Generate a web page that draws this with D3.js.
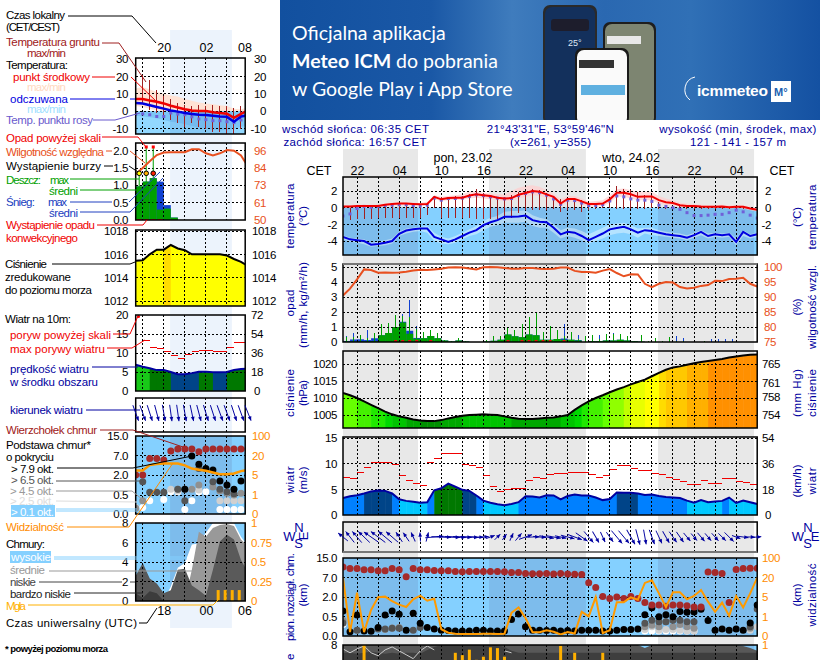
<!DOCTYPE html>
<html>
<head>
<meta charset="utf-8" />
<script src="https://d3js.org/d3.v7.min.js"></script>
<style>
  body { margin: 0; background: #fff; overflow: hidden; }
  svg { display: block; }
  text { font-family: "Liberation Sans", Arial, sans-serif; font-size: 11.5px; }
  .tick text { font-size: 11.5px; letter-spacing: -0.4px; }
</style>
</head>
<body>
<svg id="chart" width="820" height="660"></svg>
<script>
// ---- main meteogram, hourly from 20 CET ----
const hourTicks = [2, 8, 14, 20, 26, 32, 38, 44, 50, 56];
const hourLabels = ["22", "04", "10", "16", "22", "04", "10", "16", "22", "04"];
const nights = [[0, 10.68], [20.8, 34.6], [44.87, 58.55]];

const temp = [0.15,0.15,0.2,0.2,0.2,0.2,0.35,0.45,0.5,0.5,.45,.4,.45,1.3,1.0,1.15,1.2,1.2,1.45,1.6,1.5,1.4,1.2,1.1,1.15,1.55,1.75,2.0,1.9,1.6,1.3,.5,1.05,1.05,.75,.45,.45,.5,1.0,1.8,1.8,1.6,1.3,1.35,1.35,.9,.65,.55,.3,.2,.2,.15,.12,.12,.15,.05,.1,.1,-.1,-.25];
const tempMax = [0.3,0.3,0.35,0.35,0.35,0.35,0.5,0.6,0.65,0.65,0.6,0.55,0.7,1.5,1.3,1.4,1.5,1.6,1.9,2.0,1.8,1.7,1.6,1.6,2.0,2.4,2.6,2.7,2.5,2.1,1.7,1.0,1.4,1.4,1.1,0.7,0.8,0.9,1.5,2.2,2.3,2.1,1.9,1.9,1.9,1.4,1.1,0.9,0.6,0.5,0.4,0.35,0.3,0.3,0.35,0.3,0.3,0.3,0.1,0];
const tempMin = [0,0,0.05,0.05,0.05,0.05,0.2,0.3,0.35,0.35,0.3,0.25,0.3,1.0,0.8,0.9,0.95,0.95,1.1,1.2,1.1,1.0,0.9,0.8,0.85,1.1,1.3,1.5,1.4,1.2,0.9,0.2,0.7,0.7,0.4,0.1,0.1,0.2,0.6,1.3,1.3,1.1,0.9,0.9,0.9,0.5,0.3,0.3,0.1,0,0,0,-0.05,-0.05,0,-0.1,-0.05,-0.1,-0.3,-0.45];
const feels = [-3.5,-3.8,-3.9,-4.0,-4.45,-4.35,-4.2,-4.0,-3.15,-2.75,-2.6,-2.5,-2.5,-3.5,-3.8,-4.1,-3.8,-3.4,-3.0,-2.7,-2.1,-1.75,-1.5,-1.1,-1.1,-1.05,-0.95,-1.5,-1.7,-1.75,-2.4,-3.2,-2.9,-3.0,-3.4,-3.9,-3.5,-3.1,-2.6,-2.45,-2.3,-2.6,-3.0,-2.7,-2.8,-3.0,-3.2,-3.3,-3.4,-3.6,-3.3,-2.9,-3.4,-3.2,-3.3,-3.2,-4.1,-2.9,-3.4,-3.2];
const feelsMax = [-3.3,-3.6,-3.7,-3.8,-4.2,-4.1,-3.9,-3.7,-2.9,-2.5,-2.4,-2.3,-2.2,-3.0,-3.5,-3.7,-3.4,-3.0,-2.6,-2.2,-1.6,-1.2,-1.0,-0.5,-0.4,-0.4,-0.3,-0.9,-1.2,-1.4,-2.0,-2.7,-2.4,-2.5,-2.8,-3.2,-2.8,-2.4,-2.0,-1.9,-1.8,-2.1,-2.5,-2.4,-2.4,-2.7,-2.9,-3.0,-3.1,-3.3,-3.0,-2.7,-3.1,-3.0,-3.1,-3.0,-3.7,-2.7,-3.2,-3.0];
const feelsMin = [-3.8,-4.1,-4.2,-4.4,-4.7,-4.6,-4.5,-4.3,-3.4,-3.1,-2.9,-2.8,-3.0,-4.0,-4.3,-4.4,-4.2,-3.8,-3.4,-3.2,-2.7,-2.3,-2.1,-1.8,-1.8,-1.8,-1.7,-2.2,-2.4,-2.4,-3.0,-3.7,-3.4,-3.6,-3.9,-4.3,-4.0,-3.7,-3.3,-3.1,-3.0,-3.2,-3.6,-3.1,-3.3,-3.4,-3.5,-3.6,-3.7,-3.9,-3.6,-3.3,-3.7,-3.5,-3.6,-3.5,-4.5,-3.4,-3.7,-3.5];
const dewPoint = [-1.0,-0.75,-0.1,0.15,0.05,0.15,0.25,0.3,0.35,0.35,0.25,0.2,0.3,1.15,0.9,1.1,1.1,1.15,1.35,1.55,1.45,1.3,1.15,1.05,1.1,1.45,1.7,1.9,1.8,1.5,1.05,0.4,0.9,0.85,0.55,0.25,0.25,0.35,0.8,1.4,1.3,1.05,0.9,0.9,0.75,0.3,0.15,0,-0.2,-0.6,-0.95,-0.95,-0.9,-0.8,-0.8,-0.6,-0.3,-0.5,-0.9,-1.25];
const groundHi = [0.1,0.0,0.0,0.1,0.1,0.1,0.1,0.2,0.2,0.2,0.2,0.2,0.2,1.2,1.3,1.3,1.4,1.4,1.7,2.3,1.8,1.4,1.2,1.3,1.5,1.9,2.0,2.3,2.1,1.6,1.4,1.1,1.2,1.1,0.9,0.5,0.5,0.5,0.9,2.6,2.3,2.1,1.9,1.5,1.5,0.7,0.3,0.2,0.3,0.2,0.2,0.15,0.1,0.1,0.2,0.1,0.1,0.1,0,-0.1];
const groundLo = [-0.1,-1.5,-1.3,-1.3,-1.3,-1.2,-1.2,-1.2,-1.2,-1.2,-1.2,-1.2,-0.9,0,-1.2,-1.2,-1.2,-1.2,-1.2,-1.3,-1.3,-1.3,-1.3,-1.2,-1.2,-0.6,-0.3,-0.3,-0.3,-0.3,-0.2,-0.5,-0.3,-0.3,-0.5,-0.3,-0.1,0,0,-0.1,-0.1,-0.1,-0.1,-0.1,0,-0.1,-0.1,-0.1,-0.2,-0.2,-0.2,-0.1,-0.1,-0.1,-0.2,-0.2,-0.2,-0.1,-0.2,-0.3];

const rainMean = [0.02,0.02,0.03,0.03,0.05,0.45,0.6,1.0,1.3,0.55,0.22,0.25,0.4,0.25,0.1,0.03,0.1,0.03,0,0,0.03,0.08,0.15,0.5,0.38,0.32,0.5,0.45,0.15,0.15,0.2,0.15,0.15,0.1,0,0.05,0.05,0.1,0.1,0.15,0.1,0.05,0.02,0,0,0,0,0,0,0,0,0,0,0,0,0,0,0,0,0];
const snowMean = [0.05,0.15,0.15,0.1,0.2,0,0,0,0.05,0.2,0.05,0,0,0,0,0,0,0,0,0,0,0,0,0,0,0,0,0,0,0,0,0.08,0,0.03,0,0,0,0,0,0,0,0,0,0,0,0,0,0,0,0,0,0,0,0,0,0,0,0,0,0];
const rainMax = [0.35,0.35,0.45,0.3,0.6,1.2,1.3,1.8,1.75,1.7,0.9,0.7,0.8,0.6,0.15,0.05,0.3,0.1,0,0,0.15,0.4,0.4,1.0,0.8,1.2,1.7,2.0,0.7,1.1,0.8,0.4,0.7,0.2,0.4,0.5,0.2,0.55,0.55,0.55,0.4,0.1,0.45,0.1,0.3,0.1,0.35,0.05,0.05,0,0,0.05,0,0,0,0,0,0,0,0];
const snowMax = [0.4,0.6,0.45,0.8,0.5,0,0,0,1.9,2.8,1.1,0,0,0,0,0,0,0,0,0,0,0,0,0,0,0,0,0,0,0,0,1.2,0,0.45,0,0,0.5,0.3,0.6,0.3,0,0,0,0,0,0,0,0.4,0.3,0,0,0.05,0.2,0.2,0.2,0.2,0,0,0,0];
const convective = [7, 8, 9, 10, 12, 23, 25, 26, 27, 28, 29, 31];
const humidity = [90.5,92.8,95.9,99.2,99,98.1,98.2,98.1,98.2,98.4,98.8,99.1,99,99.2,99.4,99.8,99.9,99.8,99.5,99.2,99.9,100,99.9,99.7,99.4,99.4,99.7,99.7,99.4,99.3,99.4,99.8,99.8,98.7,98.3,98.3,98.1,98.8,99.3,98,96.9,97.6,97.5,94.4,93.3,94.4,95,94.8,93.3,92.8,93.1,93.7,94,95.4,95.3,96,96.1,96.4,94.4,93.5];

const pressure = [1011.5,1010.8,1010,1009,1008,1007,1006,1005.2,1004.6,1004.2,1003.7,1003.4,1003.2,1003.2,1003.5,1004,1004.4,1004.8,1005,1005.1,1005.2,1005.1,1005,1004.6,1004.2,1003.9,1003.8,1003.8,1004,1004.2,1004.3,1004.6,1005,1006.5,1007.8,1009,1010,1010.8,1011.7,1012.5,1013.2,1014,1014.7,1015.4,1016.4,1017.4,1018.3,1019,1019.3,1019.8,1020.2,1020.6,1020.9,1021.2,1021.5,1021.9,1022.2,1022.5,1022.7,1022.8];

const windSpeed = [3.3,3.65,3.85,4.2,4.6,4.75,4.7,4.2,3.05,2.75,2.6,2.4,2.5,4.8,5.2,6.1,5.5,4.9,4.7,3.8,2.8,2.4,2.1,1.9,2.15,2.5,3.65,3.6,3.4,3.85,3.8,3.05,3.7,4.0,3.8,3.8,3.4,2.9,3.1,4.4,4.35,4.35,4.2,3.9,4.0,3.7,3.5,3.4,3.3,2.8,2.4,2.9,2.5,2.65,2.75,3.4,2.35,2.8,2.5,2.15];
const windGust = [7.3,7.1,8.3,9.3,10.3,10.3,10.3,9.9,7.6,6.8,6.1,5.8,10.3,11.1,11.9,11.9,11.9,9.9,9.6,9.3,7.6,5.6,4.5,5,5.2,5.2,6.8,7.4,7.2,7.8,8,8,8.35,8.35,8.2,7.8,7.4,7.6,8.9,9.6,9.6,9.1,8.7,8.7,8,7.8,7.4,7,6.6,6,6,6.8,6.2,6.2,7.2,7.2,6.6,6.4,6];
const windDir = [309,322,320,314,305,307,310,311,327,326,335,357,14,85,92,92,93,93,93,92,85,70,45,35,25,40,70,88,95,100,100,102,105,110,125,140,150,155,145,140,140,150,165,170,160,155,150,145,145,140,140,140,140,138,135,135,110,98,92,85];

const cloudTop = [11.3,10.7,10.7,10.2,10.2,9.8,9.8,10.7,10.2,7.4,10.7,10.2,10.2,9.9,9.8,9.8,9.5,9.4,9.5,9.5,9.5,9.5,9.5,9.4,9.1,9.1,8.7,8.6,8.6,8.7,8.5,8.7,8.5,8.4,8.3,5.7,4.5,2.2,1.9,2.1,1.9,2.2,1.9,1.6,1.4,1.4,1.3,1.4,1.4,1.35,1.25,1.25,9.3,9.1,8.7,1.6,10.3,10.7,10.8,10.8];
const base79 = [0.94,0.11,0.63,0.13,0.12,0.22,0.63,0.94,0.68,0.15,0.76,0.33,0.22,0.18,0.15,0.14,0.13,0.13,0.13,0.15,0.15,0.13,0.13,0.13,0.43,0.7,0.24,0.15,0.15,0.14,0.15,0.13,0.14,0.13,0.15,0.15,0.15,0.13,0.13,0.15,0.17,0.17,0.18,0.66,1.2,0.5,0.66,0.5,0.9,0.85,0.87,1.07,0.4,0.15,0.18,0.15,0.18,0.15,0.34,1.4];
const base65 = [[0,.34],[2,.15],[5,.18],[6,.18],[7,.2],[8,.2],[10,.15],[11,.22],[43,.33],[44,.41],[45,.37],[46,.37],[47,.41],[48,.41],[49,.37],[50,.37],[58,.24],[59,1.1]];
const base45 = [[0,.41],[2,.15],[6,.17],[7,.21],[8,.22],[43,.24],[44,.28],[45,.24],[46,.37],[47,.24],[48,.3],[49,.24],[50,.2],[58,.2]];
const base25 = [[0,.34],[43,.17],[44,.24],[45,.15],[46,.17],[47,.17],[48,.15],[49,.13],[50,.13],[58,.15],[59,.24]];
const base01 = [[0,.3],[43,.13],[44,.13],[45,.13],[46,.13],[47,.13],[48,.13],[49,.13],[50,.13]];
const visibility = [20,.2,8.5,.2,2.4,5,5.5,4.2,3.5,3,4.6,6.3,4.3,4.7,.35,.17,.12,.1,.1,.1,.12,.12,.1,.12,1.8,2.9,.93,.2,.2,.3,.22,.08,.2,.13,2,1.05,5.2,.15,.3,4,4,5,4.5,16,18,8,3,8.8,8.8,4.6,6,10.6,4.1,2,3.9,1.2,6,2.9,8,20];

const lowCloud = [8,8,8,8,8,8,8,8,8,8,8,8,8,8,8,8,8,8,8,8,8,8,8,8,8,8,8,8,8,8,8,8,8,8,8,8,8,8,8,8,8,8,8,7.7,8,8,8,8,8,8,8,8,8,8,8,8,8,7.9,7.7,7.4];
const vlowCloud = [7.2,7.2,7.1,7.2,7.3,7.2,7.1,7.2,7.1,7.2,7.2,7.1,7.5,7.8,8,8,8,8,8,8,8,8,8,7.8,7.4,7.2,7.2,7.2,7.2,7.2,7.2,7.2,7.2,7.2,7.2,7.2,7.2,7.2,7.2,7.2,7.2,7.2,7.2,7.2,7.2,7.2,7.2,7.2,7.2,7.2,7.2,7.2,7.2,7.2,7.2,7.2,7.2,7.2,7.2,7.2];
const highCloudLine = [7.6,7.2,7.6,7.9,7.2,6.9,7.5,7.8,7.4,7,6.6,7.4,7.9,7.5,null,null,null,null,null,null,null,null,null,7.4,7.2];
const fogMain = [[3,1],[16,.9],[17,.87],[18,.94],[19,.81],[20,.85],[21,.97],[22,.96],[23,.85],[31,.99],[33,.9],[37,.9]];

// ---- small legend meteogram on the left ----
const leftTicks = [4, 10, 15.5];
const leftLocal = ["20", "02", "08"];
const leftUtc = ["18", "00", "06"];
const leftNight = [4.9, 13.7];
const lTemp = [7,7,6.2,5.5,4.5,3.2,2.2,1.2,0.5,0.2,0.2,-0.5,-1,-1.4,-3.8,-1.5,0.5];
const lFeels = [4.8,4.4,3.5,2.5,1.5,0.5,-0.2,-1,-1.5,-2,-2.2,-2.6,-3,-3.2,-6,-3,-2.3];
const lDew = [-1.5,-1.5,-2,-3,-3,-1,-1.6,-2,-3.2,-4.4,-4.8,-5.4,-5.4,-6,-6.5,-5,-3];
const lTempMax = [13,14,12.5,11,10,9,8.5,7,6,5,4.5,4,3.5,3,1.5,1,2.5];
const lTempMin = [3,2.5,1.5,0.5,0,0,0,0,0,0,0,0,0,0,0,0,0];
const lFeelsMin = [-2.5,-3,-3.5,-4,-5,-6,-6.5,-7.5,-8.5,-9.5,-10,-10.5,-11,-10.5,-10,-9,-8];
const lGroundHi = [4,21,18,12,9,7,5,3.5,3,3.5,3,3.5,3,3,2,3,3];
const lGroundLo = [1,4,1,-1,-3,-5,-7,-9,-7,-9,-10,-12,-12,-13,-14,-10,-5];
const lRainMean = [0.96,1.1,1.2,0.3,0.33,0.07,0,0,0,0,0,0,0,0,0,0];
const lSnowMean = [0,0,0,0.8,0.1,0,0,0,0,0,0,0,0,0,0,0];
const lRainMax = [1.35,2.1,2.1];
const lStorm = [[0, "#ffff00"], [1, "#ffb000"], [2, "#ff2000"]];
const lOverScale = [1, 2];
const lConvective = [0, 1, 2, 3];
const lHumidity = [80,84,88.7,93,94.7,95,95,95,97,97,94.2,92.7,94.2,96.4,96,92.7,85];
const lPressure = [1015.44,1015.5,1016,1016.4,1016.4,1016.8,1016.5,1016.35,1016,1016,1016,1016,1016,1015.9,1015.6,1015.35,1015];
const lWind = [6.9,6.4,6,5.5,5.5,5,4.4,4.4,4.7,5.05,5.05,4.95,4.95,5,5.5,5.8,5.9];
const lGust = [13.4,11.5,11.2,10.35,9.4,8.6,9.65,10.35,10.7,10.7,10.35,10.35,11.5,12.8,12.8];
const lWindDir = [160,160,162,165,170,172,172,170,168,165,163,162,160,160,162,160,158];
const lWindLen = [5.5,5.5,5.5,5.5,5.5,5.5,5.5,5.5,5.5,5.5,5.5,5.5,5.5,5.5,5.5,5.5,5.5];
const lTop = [2,2,6.3,6.3,5.9,8.9,9.7,9.7,9.7,8.6,9.7,9.7,9.7,9.7,9.7,9.7,9.7];
const lBase79 = [[7,.93],[8,6.9],[9,4.8],[10,3.7],[11,3.3],[12,1.55],[13,1.25],[14,.93],[15,1.55],[16,1.95]];
const lBase65 = [[1,1.5],[2,.7],[3,.7],[4,.7],[6,.93],[7,.35],[9,3.7],[11,1.5],[12,.93],[13,.75],[14,.6]];
const lBase45 = [[0,.15],[1,.35],[6,.93],[7,.93],[8,.93],[9,1.25],[11,1.1],[12,.8],[13,.63],[14,.5],[15,.63]];
const lBase25 = [[0,.17],[5,.93],[6,.8],[9,.88],[12,.35],[13,.35],[14,.35],[15,.35],[16,.35]];
const lBase01 = [[1,.17],[2,.35],[4,.38],[5,.75],[6,.75],[7,.12],[8,.35],[9,.75],[10,.75],[12,.12],[13,.12],[14,.12],[15,.12]];
const lVisibility = [8.5,8.5,12.7,13.5,14,14,14,12.5,10,9,8.3,7,5.6,5.5,6.2,8,9];
const lHighCloud = [0,0,0,0,0,1.5,3.4,3.9,5.8,5.9,7,8,8,8,8,6.6,5.6];
const lMidCloud = [0,0,0,0,0,0,0,0,3.2,7.1,6.6,7.5,7.8,7.9,7.7,6.3,5.6];
const lLowCloud = [2.6,3.9,2.3,1.8,0.8,1.1,3.2,3.3,1.6,1.1,0.55,3.2,6.1,6.8,6.3,4.2,2.9];
const lVlowCloud = [0.8,0.3,1,0.8,0,0,0,0,0,0,0,0,0,0,0,0,0];
const lFog = [[11.75,.14],[12.75,.14],[13.75,.14],[14.75,.14]];

// axis ticks
const tempTicks = [-4, -2, 0, 2];
const rainTicks = [0, 1, 2, 3, 4, 5];
const humTicks = [75, 80, 85, 90, 95, 100];
const hpaTicks = [1005, 1010, 1015, 1020];
const mmhgTicks = [754, 758, 761, 765];
const msTicks = [0, 5, 10, 15];
const kmhTicks = [0, 18, 36, 54];
const kmTicks = [0, 0.5, 2, 7, 15];
const visTicks = [0, 1, 5, 20, 100];
const oktTicks = [0, 2, 4, 6, 8];
const fogTicks = [0, 0.25, 0.5, 0.75, 1];

const navy = "#0000a0", orange = "#ff8c00", humColor = "#e85020", skyDay = "#84d0ff", skyNight = "#7dbcec";
const svg = d3.select("#chart");
const defs = svg.append("defs");
let clipId = 0;

const xMain = d3.scaleLinear().domain([0, 59]).range([343, 757.2]);
const xLeft = d3.scaleLinear().domain([0, 15.6]).range([135.7, 245.2]);

function txt(x, y, s, color, opts) {
  opts = opts || {};
  const t = svg.append("text").attr("x", x).attr("y", y).attr("fill", color || "#000").text(s)
    .attr("text-anchor", opts.anchor || "start");
  if (opts.size) t.style("font-size", opts.size + "px");
  if (opts.weight) t.style("font-weight", opts.weight);
  if (opts.font) t.style("font-family", opts.font);
  if (opts.len) t.attr("textLength", opts.len).attr("lengthAdjust", "spacing");
  return t;
}
function vtxt(x, y, s, len, color) {
  const t = svg.append("text").attr("transform", `translate(${x},${y}) rotate(-90)`)
    .attr("text-anchor", "middle").attr("fill", color || navy).text(s);
  if (len) t.attr("textLength", len).attr("lengthAdjust", "spacing");
  return t;
}
function clipped(x0, x1, y0, y1) {
  const id = "clip" + (clipId++);
  defs.append("clipPath").attr("id", id).append("rect")
    .attr("x", x0).attr("y", y0).attr("width", x1 - x0).attr("height", y1 - y0);
  return svg.append("g").attr("clip-path", `url(#${id})`);
}
function grid(g, x, xs, y, ys, y0, y1, x0, x1) {
  g.selectAll(null).data(xs).enter().append("line")
    .attr("x1", d => x(d)).attr("x2", d => x(d)).attr("y1", y0).attr("y2", y1)
    .attr("stroke", "#000").attr("stroke-dasharray", "2,2").attr("shape-rendering", "crispEdges");
  g.selectAll(null).data(ys).enter().append("line")
    .attr("y1", d => y(d)).attr("y2", d => y(d)).attr("x1", x0).attr("x2", x1)
    .attr("stroke", "#000").attr("stroke-dasharray", "2,2").attr("shape-rendering", "crispEdges");
}
function frame(x0, x1, y0, y1) {
  svg.append("rect").attr("x", x0).attr("y", y0).attr("width", x1 - x0).attr("height", y1 - y0)
    .attr("fill", "none").attr("stroke", "#000").attr("stroke-width", 1.5);
}
function axisY(scale, ticks, x, side, color, fmt, anchor) {
  const ax = (side == "left" ? d3.axisLeft(scale) : d3.axisRight(scale))
    .tickValues(ticks).tickSize(0).tickPadding(0).tickFormat(fmt || (d => d));
  const g = svg.append("g").attr("transform", `translate(${x},0)`).call(ax);
  g.select(".domain").remove();
  g.selectAll("text").attr("fill", color || "#000").attr("text-anchor", anchor || (side == "left" ? "end" : "start"));
  return g;
}
function axisX(scale, ticks, labels, y) {
  const ax = d3.axisTop(scale).tickValues(ticks).tickSize(0).tickPadding(0).tickFormat((d, i) => labels[i]);
  const g = svg.append("g").attr("transform", `translate(0,${y})`).call(ax);
  g.select(".domain").remove();
  g.selectAll("text").attr("fill", "#000").style("font-size", "12.5px").style("letter-spacing", "0");
}
function lineOf(x, y) {
  return d3.line().defined(d => d != null).x((d, i) => x(i)).y(d => y(d));
}
function bandOf(x, y, hi, lo) {
  return d3.area().x((d, i) => x(i)).y0((d, i) => y(lo[i])).y1((d, i) => y(hi[i]))(hi);
}
function skyBackground(g, x, nightSpans, x0, x1, y0, y1, nightColor) {
  g.append("rect").attr("x", x0).attr("y", y0).attr("width", x1 - x0).attr("height", y1 - y0).attr("fill", skyDay);
  g.selectAll(null).data(nightSpans).enter().append("rect")
    .attr("x", d => x(d[0])).attr("width", d => x(d[1]) - x(d[0])).attr("y", y0).attr("height", y1 - y0)
    .attr("fill", nightColor);
}
function dots(g, x, y, pts, color) {
  g.selectAll(null).data(pts).enter().append("circle")
    .attr("cx", d => x(d[0])).attr("cy", d => y(d[1])).attr("r", 3.5).attr("fill", color);
}
function arrows(g, x, cy, speeds, dirs, perMs) {
  const a = g.selectAll(null).data(dirs).enter().append("g")
    .attr("transform", (d, i) => `translate(${x(i)},${cy}) rotate(${d})`);
  a.append("line").attr("y1", (d, i) => speeds[i] * perMs / 2).attr("y2", (d, i) => -speeds[i] * perMs / 2)
    .attr("stroke", navy).attr("stroke-width", 0.9);
  a.append("path").attr("fill", navy)
    .attr("d", (d, i) => { const t = -speeds[i] * perMs / 2; return `M0,${t}L-1.9,${t + 4.2}L1.9,${t + 4.2}Z`; });
}
const pressColor = d3.scaleThreshold()
  .domain([1003.5,1004.5,1005.6,1007,1009,1010.5,1011.6,1013,1014,1015,1016.6,1018,1019.5,1020.8])
  .range(["#009000","#00a800","#00c400","#00d800","#20e800","#44f000","#66ff00","#90ff00","#c0ff00","#e8ff00","#ffff00","#ffdc00","#ffc800","#ffb000","#ff9000"]);
const windColor = d3.scaleThreshold().domain([3, 4.1, 5, 5.95]).range(["#00c8ff", "#0080ff", "#004488", "#007800", "#18c818"]);

// ---- banner ----
const grad = defs.append("linearGradient").attr("id", "bannerBg");
[[0, "#12509f"], [0.28, "#1a58a6"], [0.43, "#3f7cbd"], [0.6, "#2a68b1"], [0.76, "#3070b6"], [1, "#1451a2"]]
  .forEach(s => grad.append("stop").attr("offset", s[0]).attr("stop-color", s[1]));
svg.append("rect").attr("x", 280).attr("y", 0).attr("width", 540).attr("height", 120).attr("fill", "url(#bannerBg)");
const bannerFont = "Lato, sans-serif";
txt(292, 40, "Oficjalna aplikacja", "#fff", { size: 19.5, font: bannerFont });
const b2 = txt(292, 68, "", "#fff", { size: 19.5, font: bannerFont });
b2.append("tspan").style("font-weight", "bold").text("Meteo ICM");
b2.append("tspan").text(" do pobrania");
txt(292, 96, "w Google Play i App Store", "#fff", { size: 19.5, font: bannerFont });
const phone = (x, y, w, c) => svg.append("rect").attr("x", x).attr("y", y).attr("width", w).attr("height", 125 - y).attr("rx", 7).attr("fill", c);
phone(543, 5, 54, "#2a2a2a"); phone(545, 7, 50, "#13305c");
svg.append("rect").attr("x", 551).attr("y", 19).attr("width", 38).attr("height", 12).attr("rx", 3).attr("fill", "#1d1d2c");
txt(568, 46, "25°", "#dfe8f4", { size: 9 });
phone(603, 22, 53, "#1e1e1e"); phone(605, 24, 49, "#7d8571");
svg.append("rect").attr("x", 607).attr("y", 36).attr("width", 34).attr("height", 8).attr("fill", "#e8e8e8");
phone(575, 48, 54, "#1a1a1a"); phone(577, 50, 50, "#fafafa");
svg.append("rect").attr("x", 579).attr("y", 60).attr("width", 35).attr("height", 8).attr("fill", "#333");
svg.append("rect").attr("x", 581).attr("y", 85).attr("width", 44).attr("height", 10).attr("fill", "#5fb0e0");
svg.append("rect").attr("x", 540).attr("y", 120).attr("width", 125).attr("height", 6).attr("fill", "#fff");
txt(697, 96, "icmmeteo", "#fff", { size: 15.5, weight: "bold", len: 71 });
svg.append("path").attr("d", "M695,77 A13,13 0 0 0 690,100").attr("fill", "none").attr("stroke", "#fff");
svg.append("rect").attr("x", 771).attr("y", 81).attr("width", 20).attr("height", 21).attr("fill", "#fff");
txt(774, 96, "M°", "#2060b0", { size: 11, weight: "bold" });

// ---- night bands behind everything ----
svg.selectAll(null).data(nights).enter().append("rect")
  .attr("x", d => xMain(d[0])).attr("width", d => xMain(d[1]) - xMain(d[0])).attr("y", 149).attr("height", 511).attr("fill", "#e8e8e8");
svg.append("rect").attr("x", xLeft(leftNight[0])).attr("width", xLeft(leftNight[1]) - xLeft(leftNight[0]))
  .attr("y", 30).attr("height", 598).attr("fill", "#ecf3fc");

// ---- header texts ----
txt(282, 133, "wschód słońca: 06:35 CET", navy, { len: 147 });
txt(283.5, 146, "zachód słońca: 16:57 CET", navy, { len: 143 });
txt(486.7, 133, "21°43'31\"E, 53°59'46\"N", navy, { len: 127 });
txt(510, 146, "(x=261,  y=355)", navy, { len: 81 });
txt(659.3, 133, "wysokość (min, środek, max)", navy, { len: 157 });
txt(690, 146, "121 - 141 - 157 m", navy, { len: 96 });
txt(463, 162, "pon, 23.02", "#000", { anchor: "middle", size: 12.5 });
txt(631, 162, "wto, 24.02", "#000", { anchor: "middle", size: 12.5 });
txt(319, 175, "CET", "#000", { anchor: "middle", size: 12.5 });
txt(782, 175, "CET", "#000", { anchor: "middle", size: 12.5 });
axisX(xMain, hourTicks, hourLabels, 175);

const X0 = 343, X1 = 757.2;
const gridX = d3.range(2, 58, 3);

// ---- temperature ----
{
  const y = d3.scaleLinear().domain([-4, 2]).range([241, 191]);
  const g = clipped(X0, X1, 177, 255);
  skyBackground(g, xMain, nights, X0, X1, y(0), 255, skyNight);
  g.append("path").attr("d", bandOf(xMain, y, feelsMax, feelsMin)).attr("fill", "#fff").attr("opacity", 0.4);
  g.append("path").attr("d", bandOf(xMain, y, tempMax, tempMin)).attr("fill", "#ffcfcf").attr("opacity", 0.75);
  grid(g, xMain, gridX, y, tempTicks, 177, 255, X0, X1);
  g.selectAll(null).data(groundHi).enter().append("line")
    .attr("x1", (d, i) => xMain(i)).attr("x2", (d, i) => xMain(i)).attr("y1", d => y(d)).attr("y2", (d, i) => y(groundLo[i]))
    .attr("stroke", "#a02020").attr("shape-rendering", "crispEdges");
  g.selectAll(null).data(dewPoint).enter().append("rect")
    .attr("x", (d, i) => xMain(i) - 1.5).attr("y", d => y(d) - 1.5).attr("width", 3).attr("height", 3).attr("fill", "#7060d8");
  g.append("path").attr("d", lineOf(xMain, y)(temp)).attr("fill", "none").attr("stroke", "#f00000").attr("stroke-width", 2);
  g.append("path").attr("d", lineOf(xMain, y)(feels)).attr("fill", "none").attr("stroke", "#0000e0").attr("stroke-width", 2);
  frame(X0, X1, 177, 255);
  axisY(y, tempTicks, 337, "left");
  axisY(y, tempTicks, 771, "right", "#000", null, "end");
}
// ---- precipitation and humidity ----
{
  const y = d3.scaleLinear().domain([0, 5]).range([342, 267]);
  const yh = d3.scaleLinear().domain([75, 100]).range([342, 267]);
  const g = clipped(X0, X1, 264, 342);
  const bw = xMain(1) - xMain(0);
  g.selectAll(null).data(snowMean).enter().append("rect")
    .attr("x", (d, i) => xMain(i)).attr("width", bw).attr("y", (d, i) => y(d + rainMean[i])).attr("height", (d, i) => 342 - y(d + rainMean[i])).attr("fill", "#1040d0");
  g.selectAll(null).data(snowMax).enter().append("line")
    .attr("x1", (d, i) => xMain(i + 0.5)).attr("x2", (d, i) => xMain(i + 0.5)).attr("y1", 342).attr("y2", d => y(d)).attr("stroke", "#1040d0").attr("shape-rendering", "crispEdges");
  g.selectAll(null).data(rainMean).enter().append("rect")
    .attr("x", (d, i) => xMain(i)).attr("width", bw).attr("y", d => y(d)).attr("height", d => 342 - y(d)).attr("fill", "#00a000");
  g.selectAll(null).data(rainMax).enter().append("line")
    .attr("x1", (d, i) => xMain(i + 0.5)).attr("x2", (d, i) => xMain(i + 0.5)).attr("y1", 342).attr("y2", d => y(d)).attr("stroke", "#00a000").attr("shape-rendering", "crispEdges");
  grid(g, xMain, gridX, y, rainTicks.slice(1), 264, 342, X0, X1);
  g.selectAll(null).data(convective).enter().append("rect")
    .attr("x", d => xMain(d + 0.5) - 1.5).attr("y", 340).attr("width", 3).attr("height", 2).attr("fill", "#e01010");
  g.append("path").attr("d", lineOf(xMain, yh)(humidity)).attr("fill", "none").attr("stroke", humColor).attr("stroke-width", 2);
  frame(X0, X1, 264, 342);
  svg.append("line").attr("x1", X0).attr("x2", X1).attr("y1", 264).attr("y2", 264).attr("stroke", "#777").attr("stroke-width", 2);
  axisY(y, rainTicks, 337, "left");
  axisY(yh, humTicks, 764, "right", humColor, null, "start");
}
// ---- sea level pressure ----
{
  const y = d3.scaleLinear().domain([1005, 1020]).range([415, 364]);
  const ymm = d3.scaleLinear().domain([754, 765]).range([415, 364]);
  const g = clipped(X0, X1, 351, 428);
  const id = "clip" + (clipId++);
  defs.append("clipPath").attr("id", id).append("path")
    .attr("d", d3.area().x((d, i) => xMain(i)).y0(428).y1(d => y(d))(pressure));
  g.append("g").attr("clip-path", `url(#${id})`).selectAll(null).data(pressure).enter().append("rect")
    .attr("x", (d, i) => xMain(i)).attr("width", xMain(1) - xMain(0) + 0.5).attr("y", 351).attr("height", 77)
    .attr("fill", (d, i) => pressColor(d));
  grid(g, xMain, gridX, y, hpaTicks, 351, 428, X0, X1);
  g.append("path").attr("d", lineOf(xMain, y)(pressure)).attr("fill", "none").attr("stroke", "#000").attr("stroke-width", 2);
  frame(X0, X1, 351, 428);
  axisY(y, hpaTicks, 337, "left");
  axisY(ymm, mmhgTicks, 762, "right");
}
// ---- wind ----
{
  const y = d3.scaleLinear().domain([0, 15]).range([515, 438]);
  const ykm = d3.scaleLinear().domain([0, 54]).range([515, 438]);
  const g = clipped(X0, X1, 437, 515);
  const id = "clip" + (clipId++);
  defs.append("clipPath").attr("id", id).append("path")
    .attr("d", d3.area().x((d, i) => xMain(i)).y0(515).y1(d => y(d))(windSpeed));
  g.append("g").attr("clip-path", `url(#${id})`).selectAll(null).data(windSpeed.slice(0, 59)).enter().append("rect")
    .attr("x", (d, i) => xMain(i)).attr("width", xMain(1) - xMain(0) + 0.5).attr("y", 437).attr("height", 78)
    .attr("fill", (d, i) => windColor((d + windSpeed[i + 1]) / 2));
  grid(g, xMain, gridX, y, msTicks, 437, 515, X0, X1);
  g.append("path").attr("d", lineOf(xMain, y)(windSpeed)).attr("fill", "none").attr("stroke", navy).attr("stroke-width", 2);
  g.selectAll(null).data(windGust).enter().append("line")
    .attr("x1", (d, i) => xMain(i)).attr("x2", (d, i) => xMain(i + 1)).attr("y1", d => y(d)).attr("y2", d => y(d)).attr("stroke", "#f00000").attr("shape-rendering", "crispEdges");
  frame(X0, X1, 437, 515);
  axisY(y, msTicks, 337, "left");
  axisY(ykm, kmhTicks, 768, "right", "#000", null, "middle");
}
// ---- wind direction ----
{
  const g = svg.append("g");
  grid(g, xMain, gridX, d3.scaleLinear(), [], 522, 552, X0, X1);
  frame(X0, X1, 522, 552);
  svg.append("line").attr("x1", X0).attr("x2", X1).attr("y1", 552).attr("y2", 552).attr("stroke", "#777").attr("stroke-width", 2);
  arrows(svg.append("g"), xMain, 537, windSpeed, windDir, 3.8);
}
// ---- cloud base, top, visibility ----
{
  const y = d3.scaleLinear().domain(kmTicks).range([636, 616.7, 597.3, 577.7, 558]);
  const yv = d3.scaleLinear().domain(visTicks).range([636, 616.7, 597.3, 577.7, 558]);
  const g = clipped(X0, X1, 558, 636);
  skyBackground(g, xMain, nights, X0, X1, 558, 636, skyNight);
  grid(g, xMain, gridX, y, kmTicks.slice(1, 4), 558, 636, X0, X1);
  dots(g, xMain, y, base01, "#fff");
  dots(g, xMain, y, base25, "#d0d0d0");
  dots(g, xMain, y, base45, "#909090");
  dots(g, xMain, y, base65, "#555");
  dots(g, xMain, y, base79.map((d, i) => [i, d]), "#000");
  dots(g, xMain, y, cloudTop.map((d, i) => [i, d]), "#a52a2a");
  g.append("path").attr("d", lineOf(xMain, yv)(visibility)).attr("fill", "none").attr("stroke", "#ff9a00").attr("stroke-width", 2);
  frame(X0, X1, 558, 636);
  axisY(y, kmTicks, 337, "left", "#000", d => d.toFixed(1));
  axisY(yv, visTicks, 762, "right", orange);
}
// ---- cloud cover (cut by the page bottom) ----
{
  const y = d3.scaleLinear().domain([0, 8]).range([723, 645]);
  const yf = d3.scaleLinear().domain([0, 1]).range([723, 645]);
  const g = clipped(X0, X1, 645, 660);
  skyBackground(g, xMain, nights, X0, X1, 645, 660, skyNight);
  const area = v => d3.area().x((d, i) => xMain(i)).y0(723).y1(d => y(d))(v);
  g.append("path").attr("d", area(lowCloud)).attr("fill", "#585858");
  g.append("path").attr("d", area(vlowCloud)).attr("fill", "#3e3e3e");
  g.append("path").attr("d", lineOf(xMain, y)(highCloudLine)).attr("fill", "none").attr("stroke", "#ccc");
  grid(g, xMain, gridX, y, [], 645, 660, X0, X1);
  g.selectAll(null).data(fogMain).enter().append("rect")
    .attr("x", d => xMain(d[0]) - 1.5).attr("width", 3).attr("y", d => yf(d[1])).attr("height", d => 723 - yf(d[1])).attr("fill", "#ffb000");
  frame(X0, X1, 645, 725);
  axisY(y, [8], 337, "left");
  axisY(yf, [1], 762, "right", orange);
}
// ---- rotated side titles ----
vtxt(294, 216, "temperatura", 65); vtxt(307, 216, "(°C)", 20);
vtxt(801, 217, "(°C)", 20); vtxt(816, 217, "temperatura", 65);
vtxt(294, 303, "opad", 27); vtxt(307, 305, "(mm/h, kg/m²/h)", 86);
vtxt(801, 307, "(%)", 17); vtxt(816, 307, "wilgotność wzgl.", 84);
vtxt(294, 393, "ciśnienie", 48); vtxt(307, 393, "(hPa)", 26);
vtxt(801, 393, "(mm Hg)", 48); vtxt(816, 393, "ciśnienie", 48);
vtxt(294, 480, "wiatr", 27); vtxt(307, 480, "(m/s)", 27);
vtxt(801, 481, "(km/h)", 33); vtxt(816, 481, "wiatr", 27);
vtxt(294, 597, "pion. rozciągł. chm.", 88); vtxt(307, 595, "(km)", 23);
vtxt(801, 595, "(km)", 23); vtxt(816, 595, "widzialność", 63);
svg.append("text").attr("transform", "translate(294,660) rotate(-90)").attr("fill", navy).text("e");
const compass = (x, y, s, rot) => svg.append("text").attr("transform", `translate(${x},${y}) rotate(${rot})`).attr("fill", navy).attr("text-anchor", "middle").style("font-size", "13px").text(s);
compass(289.5, 541, "W", 0); compass(299, 532, "N", 0); compass(308, 536, "E", -90); compass(298.5, 548, "S", 0);
compass(798, 541, "W", 0); compass(808, 532, "N", 0); compass(815, 541, "E", 0); compass(807.5, 548, "S", 0);

// ---- left legend charts ----
const LX0 = 135.7, LX1 = 245.2;
const lGrid = [1, 4, 7, 10, 13];
axisX(xLeft, leftTicks, leftLocal, 52);
axisX(xLeft, leftTicks, leftUtc, 615);
{
  const y = d3.scaleLinear().domain([-10, 30]).range([128.7, 59]);
  const g = clipped(LX0, LX1, 58, 134);
  g.append("rect").attr("x", LX0).attr("width", LX1 - LX0).attr("y", y(0)).attr("height", 134 - y(0)).attr("fill", "#92d8ff");
  g.append("path").attr("d", bandOf(xLeft, y, lTempMax, lTempMin)).attr("fill", "#ffe2d4");
  g.append("path").attr("d", d3.area().x((d, i) => xLeft(i)).y0(d => y(d)).y1(y(0))(lFeelsMin)).attr("fill", "#6ab8ee").attr("opacity", 0.55);
  g.append("rect").attr("x", xLeft(leftNight[0])).attr("width", xLeft(leftNight[1]) - xLeft(leftNight[0])).attr("y", y(0)).attr("height", 134 - y(0)).attr("fill", "#5a98d8").attr("opacity", 0.25);
  grid(g, xLeft, lGrid, y, [-10, 0, 10, 20], 58, 134, LX0, LX1);
  g.selectAll(null).data(lGroundHi).enter().append("line")
    .attr("x1", (d, i) => xLeft(i)).attr("x2", (d, i) => xLeft(i)).attr("y1", d => y(d)).attr("y2", (d, i) => y(lGroundLo[i])).attr("stroke", "#a02020").attr("shape-rendering", "crispEdges");
  g.selectAll(null).data(lDew).enter().append("rect")
    .attr("x", (d, i) => xLeft(i) - 1.5).attr("y", d => y(d) - 1.5).attr("width", 3).attr("height", 3).attr("fill", "#7060d8");
  g.append("path").attr("d", lineOf(xLeft, y)(lFeels)).attr("fill", "none").attr("stroke", "#0000e0").attr("stroke-width", 2.5);
  g.append("path").attr("d", lineOf(xLeft, y)(lTemp)).attr("fill", "none").attr("stroke", "#f00000").attr("stroke-width", 2.5);
  frame(LX0, LX1, 58, 134);
  axisY(y, [-10, 0, 10, 20, 30], 128, "left");
  axisY(y, [-10, 0, 10, 20, 30], 266, "right", "#000", null, "end");
}
{
  const y = d3.scaleLinear().domain([0, 0.5, 1, 1.5, 2]).range([220, 202.7, 185, 168, 150.7]);
  const yh = d3.scaleLinear().domain([50, 61, 73, 84, 96]).range([220, 202.7, 185, 168, 150.7]);
  const g = clipped(LX0, LX1, 143, 220);
  const bw = xLeft(1) - xLeft(0);
  g.selectAll(null).data(lSnowMean).enter().append("rect")
    .attr("x", (d, i) => xLeft(i)).attr("width", bw).attr("y", (d, i) => y(d + lRainMean[i])).attr("height", (d, i) => 220 - y(d + lRainMean[i])).attr("fill", "#1040d0");
  g.selectAll(null).data(lRainMean).enter().append("rect")
    .attr("x", (d, i) => xLeft(i)).attr("width", bw).attr("y", d => y(d)).attr("height", d => 220 - y(d)).attr("fill", "#00a000");
  grid(g, xLeft, lGrid, y, [0.5, 1, 1.5, 2], 143, 220, LX0, LX1);
  g.selectAll(null).data(lRainMax).enter().append("line")
    .attr("x1", (d, i) => xLeft(i + 0.5)).attr("x2", (d, i) => xLeft(i + 0.5)).attr("y1", 220).attr("y2", d => y(d)).attr("stroke", "#00a000");
  g.selectAll(null).data(lConvective).enter().append("rect")
    .attr("x", d => xLeft(d + 0.5) - 2.5).attr("y", 219).attr("width", 5).attr("height", 1.5).attr("fill", "#e01010");
  g.append("path").attr("d", lineOf(xLeft, yh)(lHumidity)).attr("fill", "none").attr("stroke", humColor).attr("stroke-width", 2);
  g.selectAll(null).data(lOverScale).enter().append("rect")
    .attr("x", d => xLeft(d + 0.5) - 1.5).attr("y", 145.5).attr("width", 3).attr("height", 3).attr("fill", "#f00");
  g.selectAll(null).data(lStorm).enter().append("circle")
    .attr("cx", d => xLeft(d[0] + 0.5)).attr("cy", 173.3).attr("r", 2.3).attr("fill", d => d[1]).attr("stroke", "#000");
  frame(LX0, LX1, 143, 220);
  axisY(y, [0, 0.5, 1, 1.5, 2], 128, "left", "#000", d => d.toFixed(1));
  axisY(yh, [50, 61, 73, 84, 96], 254, "right", humColor);
}
{
  const y = d3.scaleLinear().domain([1012, 1018]).range([301, 231]);
  const g = clipped(LX0, LX1, 230, 306);
  const id = "clip" + (clipId++);
  defs.append("clipPath").attr("id", id).append("path")
    .attr("d", d3.area().x((d, i) => xLeft(i)).y0(306).y1(d => y(d))(lPressure));
  g.append("g").attr("clip-path", `url(#${id})`).selectAll(null).data(lPressure).enter().append("rect")
    .attr("x", (d, i) => xLeft(i)).attr("width", 7.5).attr("y", 230).attr("height", 76)
    .attr("fill", (d, i) => pressColor(lPressure[i + 1] === undefined ? d : lPressure[i + 1]));
  grid(g, xLeft, lGrid, y, [1012, 1014, 1016, 1018], 230, 306, LX0, LX1);
  g.append("path").attr("d", lineOf(xLeft, y)(lPressure)).attr("fill", "none").attr("stroke", "#000").attr("stroke-width", 2);
  frame(LX0, LX1, 230, 306);
  axisY(y, [1012, 1014, 1016, 1018], 128, "left");
  axisY(y, [1012, 1014, 1016, 1018], 252, "right");
}
{
  const y = d3.scaleLinear().domain([0, 20]).range([391, 315]);
  const ykm = d3.scaleLinear().domain([0, 72]).range([391, 315]);
  const g = clipped(LX0, LX1, 315, 391);
  const id = "clip" + (clipId++);
  defs.append("clipPath").attr("id", id).append("path")
    .attr("d", d3.area().x((d, i) => xLeft(i)).y0(391).y1(d => y(d))(lWind));
  g.append("g").attr("clip-path", `url(#${id})`).selectAll(null).data(lWind.slice(0, 16)).enter().append("rect")
    .attr("x", (d, i) => xLeft(i)).attr("width", 7.5).attr("y", 315).attr("height", 76).attr("fill", (d, i) => windColor((d + lWind[i + 1]) / 2));
  grid(g, xLeft, lGrid, y, [5, 10, 15], 315, 391, LX0, LX1);
  g.append("path").attr("d", lineOf(xLeft, y)(lWind)).attr("fill", "none").attr("stroke", navy).attr("stroke-width", 2);
  g.selectAll(null).data(lGust).enter().append("line")
    .attr("x1", (d, i) => xLeft(i + 1)).attr("x2", (d, i) => xLeft(i + 2)).attr("y1", d => y(d)).attr("y2", d => y(d)).attr("stroke", "#f00000").attr("shape-rendering", "crispEdges");
  g.append("circle").attr("cx", 138.5).attr("cy", 316.5).attr("r", 1.5).attr("fill", "#f00");
  frame(LX0, LX1, 315, 391);
  axisY(y, [0, 5, 10, 15, 20], 128, "left");
  axisY(ykm, [0, 18, 36, 54, 72], 257, "right", "#000", null, "middle");
}
{
  const g = svg.append("g");
  grid(g, xLeft, lGrid, d3.scaleLinear(), [], 398, 432, LX0, LX1);
  frame(LX0, LX1, 398, 432);
  arrows(svg.append("g"), xLeft, 413, lWindLen, lWindDir, 3);
}
{
  const y = d3.scaleLinear().domain(kmTicks).range([514, 495, 475, 455.7, 436]);
  const yv = d3.scaleLinear().domain(visTicks).range([514, 495, 475, 455.7, 436]);
  const g = clipped(LX0, LX1, 436, 514);
  skyBackground(g, xLeft, [leftNight], LX0, LX1, 436, 514, skyNight);
  grid(g, xLeft, lGrid, y, kmTicks.slice(1, 4), 436, 514, LX0, LX1);
  dots(g, xLeft, y, lBase01, "#fff");
  dots(g, xLeft, y, lBase25, "#d0d0d0");
  dots(g, xLeft, y, lBase45, "#909090");
  dots(g, xLeft, y, lBase65, "#555");
  dots(g, xLeft, y, lBase79, "#000");
  dots(g, xLeft, y, lTop.map((d, i) => [i, d]), "#a52a2a");
  g.append("path").attr("d", lineOf(xLeft, yv)(lVisibility)).attr("fill", "none").attr("stroke", "#ff9a00").attr("stroke-width", 2.5);
  frame(LX0, LX1, 436, 514);
  axisY(y, kmTicks, 128, "left", "#000", d => d.toFixed(1));
  axisY(yv, visTicks, 252, "right", orange);
}
{
  const y = d3.scaleLinear().domain([0, 8]).range([601, 523]);
  const yf = d3.scaleLinear().domain([0, 1]).range([601, 523]);
  const g = clipped(LX0, LX1, 523, 601);
  skyBackground(g, xLeft, [leftNight], LX0, LX1, 523, 601, skyNight);
  const area = v => d3.area().x((d, i) => xLeft(i)).y0(601).y1(d => y(d))(v);
  g.append("path").attr("d", area(lHighCloud)).attr("fill", "#fff");
  g.append("path").attr("d", area(lMidCloud)).attr("fill", "#999");
  g.append("path").attr("d", area(lLowCloud)).attr("fill", "#5a5a5a");
  g.append("path").attr("d", area(lVlowCloud)).attr("fill", "#3c3c3c");
  grid(g, xLeft, lGrid, y, [2, 4, 6], 523, 601, LX0, LX1);
  g.selectAll(null).data(lFog).enter().append("rect")
    .attr("x", d => xLeft(d[0]) - 1.5).attr("width", 3).attr("y", d => yf(d[1])).attr("height", d => 601 - yf(d[1])).attr("fill", "#ffb000");
  frame(LX0, LX1, 523, 601);
  axisY(y, oktTicks, 128, "left");
  axisY(yf, fogTicks, 251, "right", orange);
}

// ---- legend texts: x, baseline, string, colour, measured width ----
const legendTexts = [
  [6, 19, "Czas lokalny", "#000", 59], [6, 30.5, "(CET/CEST)", "#000", 54],
  [6, 46, "Temperatura gruntu", "#a02020", 94], [27, 57, "max/min", "#a02020", 39],
  [6, 68.5, "Temperatura:", "#000", 62], [13, 81, "punkt środkowy", "#f00000", 77],
  [27, 91, "max/min", "#ffd8c0", 39], [10, 103, "odczuwana", "#0000e0", 58],
  [27, 112.5, "max/min", "#a0dfff", 39], [6, 124, "Temp. punktu rosy", "#6a5acd", 87],
  [6, 141.5, "Opad powyżej skali", "#f00000", 95], [6, 155.5, "Wilgotność względna", humColor, 98],
  [6, 170, "Wystąpienie burzy", "#000", 95], [6, 183.5, "Deszcz:", "#00a000", 35], [50, 183.5, "max", "#00a000", 19],
  [49, 194.5, "średni", "#00a000", 29], [6, 206, "Śnieg:", "#2040c0", 29], [48, 206, "max", "#2040c0", 19],
  [49, 217, "średni", "#2040c0", 29], [6, 228.5, "Wystąpienie opadu", "#f00000", 89],
  [6, 241.5, "konwekcyjnego", "#f00000", 72], [5, 267.5, "Ciśnienie", "#000", 42],
  [5, 281, "zredukowane", "#000", 66], [5, 293.5, "do poziomu morza", "#000", 87],
  [5, 322.5, "Wiatr na 10m:", "#000", 66], [10, 338.5, "poryw powyżej skali", "#f00000", 101],
  [10, 352.5, "max porywy wiatru", "#f00000", 95], [10, 372.5, "prędkość wiatru", navy, 79],
  [10, 386, "w środku obszaru", navy, 88], [10, 413.5, "kierunek wiatru", navy, 73],
  [6, 433.5, "Wierzchołek chmur", "#a02020", 91], [6, 448.5, "Podstawa chmur*", "#000", 85],
  [6, 460.5, "o pokryciu", "#000", 48], [11, 472.5, "> 7.9 okt.", "#000", 43],
  [11, 484, "> 6.5 okt.", "#555", 43], [10, 494.5, "> 4.5 okt.", "#999", 44],
  [10, 504.5, "> 2.5 okt.", "#ddd", 44], [6, 530.5, "Widzialność", orange, 58],
  [6, 547.5, "Chmury:", "#000", 39], [10, 573.5, "średnie", "#999", 35],
  [10, 585.5, "niskie", "#444", 26], [10, 597.5, "bardzo niskie", "#222", 61],
  [6, 609.5, "Mgła", "#ffb000", 20], [6, 626.5, "Czas uniwersalny (UTC)", "#000", 131]
];
svg.append("rect").attr("x", 11).attr("y", 505).attr("width", 44).attr("height", 12).attr("fill", skyDay);
svg.append("rect").attr("x", 10).attr("y", 551).attr("width", 41).attr("height", 12).attr("fill", skyDay);
legendTexts.forEach(d => txt(d[0], d[1], d[2], d[3], { len: d[4] }));
txt(11, 515.5, "> 0.1 okt.", "#fff", { len: 43 });
txt(11, 560.5, "wysokie", "#fff", { len: 40 });
txt(5, 651.5, "* powyżej poziomu morza", "#000", { size: 9.5, weight: "bold", len: 103 });

// ---- legend leader lines ----
const leaders = [
  ["#000", [[68,16],[132,16],[156,43]]],
  ["#a02020", [[102,43],[119,43],[146,82]]],
  ["#f00000", [[92,77],[115,77]]], ["#f00000", [[131,77],[157,102]]],
  ["#0000e0", [[70,99],[115,99]]], ["#0000e0", [[130,99],[135,99]]],
  ["#6a5acd", [[93,120],[115,120],[140,113]]],
  ["#f00000", [[102,137],[138,137],[146,147]]],
  [humColor, [[106,151],[112,151]]], [humColor, [[130,151],[145,163]]],
  ["#000", [[104,166],[113,166]]], ["#000", [[129,166],[138,172]]],
  ["#00a000", [[70,179],[139,179]]], ["#00a000", [[80,190],[143,190]]],
  ["#2040c0", [[70,202],[112,202]]], ["#2040c0", [[129,202],[160,172]]],
  ["#2040c0", [[80,212],[130,212],[163,178]]],
  ["#f00000", [[97,225],[143,225],[147,220]]],
  ["#000", [[52,264],[130,264],[135,262]]],
  ["#f00000", [[113,334],[130,334],[138,316]]],
  ["#f00000", [[107,348],[132,348],[145,340]]],
  [navy, [[92,367],[138,367]]], [navy, [[86,410],[140,410]]],
  ["#a02020", [[100,430],[133,430],[183,447]]],
  ["#000", [[57,468],[133,468],[192,456]]],
  ["#555", [[56,481],[143,481]]],
  ["#999", [[56,491],[132,491],[143,500]]],
  ["#ddd", [[56,501],[137,502]]],
  [skyDay, [[56,509],[137,509]]], [skyDay, [[56,511],[137,511]]],
  [orange, [[67,527],[129,527],[173,463]]],
  [skyDay, [[54,557],[187,557]]], [skyDay, [[54,559],[187,559]]],
  ["#999", [[49,571],[193,571]]],
  ["#444", [[39,582],[122,582]]], ["#444", [[130,582],[135,582]]],
  ["#222", [[74,593],[143,593]]],
  ["#ffb000", [[28,605],[213,605],[218,600]]],
  ["#000", [[139,623],[147,623],[157,608]]]
];
const leaderLine = d3.line();
svg.selectAll(null).data(leaders).enter().append("path")
  .attr("d", d => leaderLine(d[1])).attr("fill", "none").attr("stroke", d => d[0]);
</script>
</body>
</html>
